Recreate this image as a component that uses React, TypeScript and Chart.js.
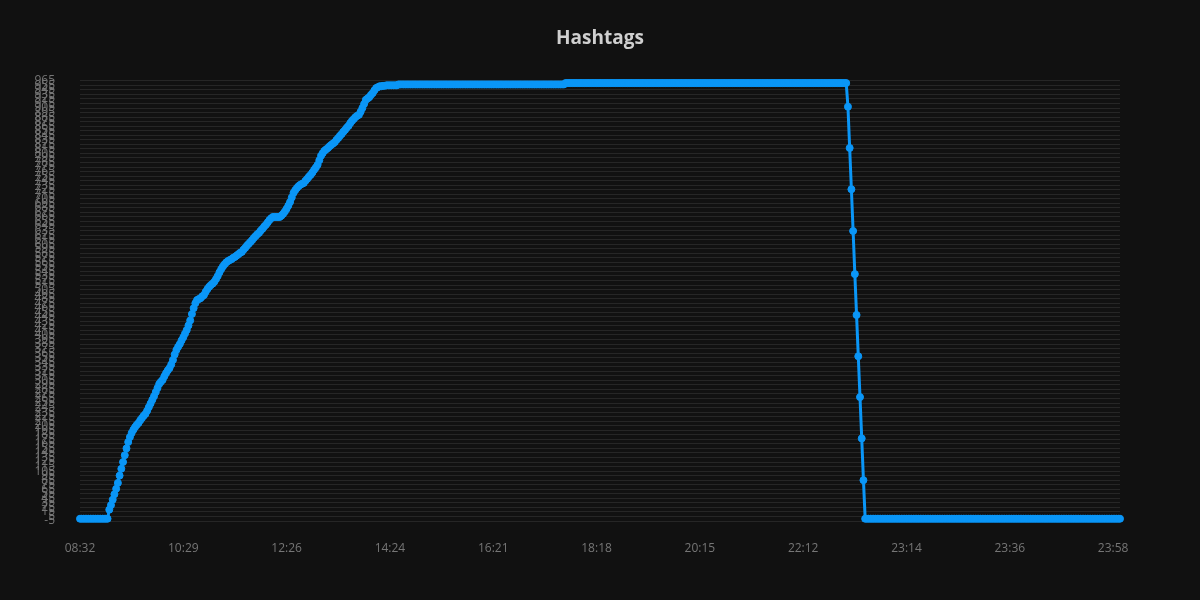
import { useEffect, useRef } from "react";
import { Chart, registerables } from "chart.js";

Chart.register(...registerables);

// Tick labels shown on the x axis (one every 60 samples)
const xTickLabels = ["08:32", "10:29", "12:26", "14:24", "16:21", "18:18", "20:15", "22:12", "23:14", "23:36", "23:58"];
const samplesPerTickLabel = 60;

// y axis range and step
const yMin = -5;
const yMax = 965;
const yStep = 10;

// Hashtag count, sample by sample
const leadingZeros = [0, 0, 0, 0, 0, 0, 0, 0, 0, 0, 0, 0, 0, 0, 0, 0, 0];

const risingValues = [
  20, 30, 42, 54, 66, 79, 95, 110, 125, 140,
  155, 169, 180, 189, 196, 202, 207, 211, 217, 222,
  227, 231, 238, 246, 254, 262, 270, 279, 288, 297,
  302, 306, 314, 321, 327, 332, 340, 350, 362, 372,
  379, 385, 393, 400, 408, 416, 426, 437, 451, 464,
  475, 482, 484, 486, 490, 493, 500, 506, 511, 515,
  518, 522, 528, 535, 543, 550, 556, 561, 565, 568,
  570, 572, 575, 577, 580, 583, 586, 588, 593, 597,
  602, 606, 610, 614, 619, 623, 627, 630, 635, 639,
  644, 648, 653, 658, 662, 665, 665, 665, 665, 665,
  668, 672, 677, 683, 690, 698, 708, 718, 724, 729,
  733, 736, 738, 740, 745, 749, 754, 758, 763, 769,
  774, 780, 790, 800, 806, 811, 814, 817, 821, 824,
  827, 830, 835, 839, 844, 848, 853, 857, 862, 866,
  872, 877, 881, 885, 888, 890, 897, 905, 914, 923,
  926, 929, 934, 938, 944, 949, 951, 953, 953, 954,
  954, 955, 955, 955, 955, 955, 955, 955,
];

const plateauEarly = [
  957, 957, 957, 957, 957, 957, 957, 957, 957, 957, 957, 957, 957, 957, 957, 957, 957, 957, 957, 957,
  957, 957, 957, 957, 957, 957, 957, 957, 957, 957, 957, 957, 957, 957, 957, 957, 957, 957, 957, 957,
  957, 957, 957, 957, 957, 957, 957, 957, 957, 957, 957, 957, 957, 957, 957, 957, 957, 957, 957, 957,
  957, 957, 957, 957, 957, 957, 957, 957, 957, 957, 957, 957, 957, 957, 957, 957, 957, 957, 957, 957,
  957, 957, 957, 957, 957, 957, 957, 957, 957, 957, 957, 957, 957, 957, 957, 957, 957,
];

const plateauLate = [
  960, 960, 960, 960, 960, 960, 960, 960, 960, 960, 960, 960, 960, 960, 960, 960, 960, 960, 960, 960,
  960, 960, 960, 960, 960, 960, 960, 960, 960, 960, 960, 960, 960, 960, 960, 960, 960, 960, 960, 960,
  960, 960, 960, 960, 960, 960, 960, 960, 960, 960, 960, 960, 960, 960, 960, 960, 960, 960, 960, 960,
  960, 960, 960, 960, 960, 960, 960, 960, 960, 960, 960, 960, 960, 960, 960, 960, 960, 960, 960, 960,
  960, 960, 960, 960, 960, 960, 960, 960, 960, 960, 960, 960, 960, 960, 960, 960, 960, 960, 960, 960,
  960, 960, 960, 960, 960, 960, 960, 960, 960, 960, 960, 960, 960, 960, 960, 960, 960, 960, 960, 960,
  960, 960, 960, 960, 960, 960, 960, 960, 960, 960, 960, 960, 960, 960, 960, 960, 960, 960, 960, 960,
  960, 960, 960, 960, 960, 960, 960, 960, 960, 960, 960, 960, 960, 960, 960, 960, 960, 960, 960, 960,
  960, 960, 960, 960,
];

const dropValues = [908, 817, 726, 634, 539, 449, 358, 268, 177, 85];

const trailingZeros = [
  0, 0, 0, 0, 0, 0, 0, 0, 0, 0, 0, 0, 0, 0, 0, 0, 0, 0, 0, 0,
  0, 0, 0, 0, 0, 0, 0, 0, 0, 0, 0, 0, 0, 0, 0, 0, 0, 0, 0, 0,
  0, 0, 0, 0, 0, 0, 0, 0, 0, 0, 0, 0, 0, 0, 0, 0, 0, 0, 0, 0,
  0, 0, 0, 0, 0, 0, 0, 0, 0, 0, 0, 0, 0, 0, 0, 0, 0, 0, 0, 0,
  0, 0, 0, 0, 0, 0, 0, 0, 0, 0, 0, 0, 0, 0, 0, 0, 0, 0, 0, 0,
  0, 0, 0, 0, 0, 0, 0, 0, 0, 0, 0, 0, 0, 0, 0, 0, 0, 0, 0, 0,
  0, 0, 0, 0, 0, 0, 0, 0, 0, 0, 0, 0, 0, 0, 0, 0, 0, 0, 0, 0,
  0, 0, 0, 0, 0, 0, 0, 0, 0,
];

const hashtagValues = [
  ...leadingZeros,
  ...risingValues,
  ...plateauEarly,
  ...plateauLate,
  ...dropValues,
  ...trailingZeros,
];

const FONT = "'Open Sans', 'Noto Sans', sans-serif";
const LINE_COLOR = "#0a96f7";
const TICK_COLOR = "#767676";

export default function App() {
  const canvasRef = useRef<HTMLCanvasElement>(null);

  useEffect(() => {
    document.body.style.margin = "0";
    document.body.style.background = "#111111";
    const canvas = canvasRef.current;
    if (!canvas) return;
    const chart = new Chart(canvas, {
      type: "line",
      data: {
        datasets: [
          {
            label: "Hashtags",
            data: hashtagValues.map((y, i) => ({ x: i, y })),
            borderColor: LINE_COLOR,
            backgroundColor: LINE_COLOR,
            pointBackgroundColor: LINE_COLOR,
            pointBorderColor: LINE_COLOR,
            borderWidth: 3,
            pointRadius: 3.5,
            pointBorderWidth: 1,
            tension: 0,
            clip: false,
          },
        ],
      },
      options: {
        responsive: false,
        animation: false,
        layout: { padding: 0 },
        plugins: {
          legend: { display: false },
          tooltip: { enabled: false },
          title: {
            display: true,
            text: "Hashtags",
            color: "#cfcfcf",
            font: { family: FONT, size: 19, weight: "bold" },
            padding: { top: 27, bottom: 31 },
          },
        },
        scales: {
          x: {
            type: "linear",
            min: 0,
            max: hashtagValues.length - 1,
            grid: { display: false },
            border: { display: false },
            afterFit: (s: any) => {
              s.height = 79;
              s.paddingRight = 80;
            },
            ticks: {
              stepSize: samplesPerTickLabel,
              includeBounds: false,
              autoSkip: false,
              maxRotation: 0,
              color: TICK_COLOR,
              padding: 12,
              font: { family: FONT, size: 12 },
              callback: (v: any) => xTickLabels[Math.round(Number(v) / samplesPerTickLabel)] ?? "",
            },
          },
          y: {
            min: yMin,
            max: yMax,
            afterFit: (s: any) => {
              s.width = 80;
            },
            grid: { color: "rgba(255,255,255,0.09)", drawTicks: false },
            border: { display: false },
            ticks: {
              stepSize: yStep,
              autoSkip: false,
              color: TICK_COLOR,
              padding: 25,
              font: { family: FONT, size: 12 },
            },
          },
        },
      },
    });
    return () => chart.destroy();
  }, []);

  return (
    <div style={{ width: 1200, height: 600, background: "#111111" }}>
      <canvas ref={canvasRef} width={1200} height={600} style={{ display: "block" }} />
    </div>
  );
}
